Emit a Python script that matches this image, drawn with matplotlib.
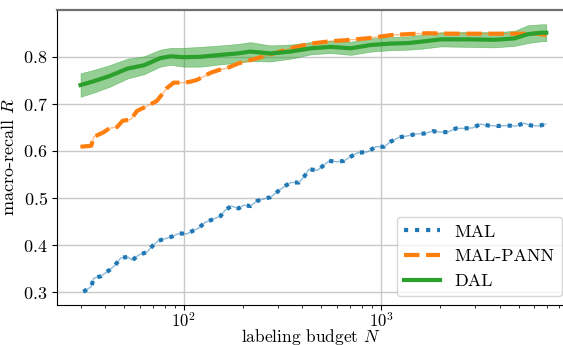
import numpy as np
import matplotlib
matplotlib.use("Agg")
import matplotlib.pyplot as plt

plt.rcParams["font.family"] = "serif"
plt.rcParams["font.serif"] = ["cmr10"]
plt.rcParams["mathtext.fontset"] = "cm"
plt.rcParams["axes.formatter.use_mathtext"] = True

# MAL
mal_n = [31, 34, 35, 38, 42, 45, 48, 52, 55, 59, 65, 69, 74, 81, 87, 95,
         104, 112, 119, 128, 141, 154, 163, 175, 190, 202, 218, 236, 250,
         276, 298, 322, 349, 384, 411, 432, 477, 515, 546, 598, 651, 704,
         761, 856, 943, 1039, 1124, 1239, 1367, 1506, 1660, 1831, 2018,
         2183, 2407, 2652, 2926, 3197, 3512, 3888, 4371, 4858, 5316, 5790,
         6305, 6844]
mal_r = [0.301, 0.312, 0.330, 0.334, 0.347, 0.358, 0.373, 0.375, 0.368,
         0.379, 0.385, 0.397, 0.409, 0.414, 0.418, 0.425, 0.424, 0.431,
         0.436, 0.448, 0.455, 0.462, 0.475, 0.483, 0.478, 0.485, 0.483,
         0.494, 0.497, 0.502, 0.513, 0.524, 0.533, 0.533, 0.547, 0.561,
         0.559, 0.570, 0.579, 0.577, 0.579, 0.588, 0.596, 0.598, 0.609,
         0.609, 0.620, 0.629, 0.632, 0.636, 0.637, 0.642, 0.640, 0.640,
         0.648, 0.648, 0.649, 0.657, 0.654, 0.653, 0.654, 0.653, 0.659,
         0.654, 0.653, 0.657]

# MAL-PANN
pann_n = [30, 34, 35, 39, 42, 46, 49, 54, 58, 65, 73, 79, 82, 89, 100,
          108, 117, 126, 137, 151, 166, 190, 218, 266, 349, 441, 557, 704,
          890, 1124, 1367, 1728, 2270, 2981, 3920, 4955, 6262, 6900]
pann_r = [0.609, 0.611, 0.630, 0.639, 0.648, 0.651, 0.664, 0.667, 0.685,
          0.695, 0.706, 0.724, 0.733, 0.745, 0.745, 0.747, 0.751, 0.758,
          0.766, 0.772, 0.776, 0.786, 0.793, 0.803, 0.818, 0.828, 0.833,
          0.836, 0.840, 0.846, 0.848, 0.850, 0.849, 0.849, 0.849, 0.849,
          0.849, 0.846]

# DAL (mean and spread)
dal_n = [30, 35, 42, 52, 63, 76, 86, 100, 122, 154, 187, 218, 276, 349,
         441, 557, 704, 890, 1124, 1367, 1597, 2018, 2759, 3767, 4761,
         5570, 6509, 6900]
dal_r = [0.740, 0.748, 0.759, 0.775, 0.782, 0.797, 0.801, 0.799, 0.800,
         0.804, 0.807, 0.811, 0.807, 0.811, 0.818, 0.821, 0.818, 0.825,
         0.828, 0.829, 0.832, 0.837, 0.837, 0.836, 0.839, 0.848, 0.851,
         0.851]
dal_sd = [0.025, 0.024, 0.023, 0.021, 0.019, 0.018, 0.018, 0.020, 0.021,
          0.020, 0.020, 0.020, 0.017, 0.015, 0.013, 0.013, 0.014, 0.014,
          0.014, 0.014, 0.015, 0.015, 0.016, 0.016, 0.016, 0.019, 0.018,
          0.018]

blue, orange, green = "#1f77b4", "#ff7f0e", "#2ca02c"

fig = plt.figure(figsize=(5.63, 3.45), dpi=100)
ax = fig.add_axes([0.102, 0.116, 0.9, 0.856])

ax.grid(True, color="#c8c8c8", linewidth=1.0, zorder=0)
ax.set_axisbelow(True)

lo = np.array(dal_r) - np.array(dal_sd)
hi = np.array(dal_r) + np.array(dal_sd)
ax.fill_between(dal_n, lo, hi, color=green, alpha=0.5, linewidth=0.5)

# thin light trace under each styled line
ax.plot(mal_n, mal_r, color=blue, alpha=0.5, linewidth=1)
ax.plot(pann_n, pann_r, color=orange, alpha=0.5, linewidth=1)

ax.plot(mal_n, mal_r, color=blue, linestyle=":", linewidth=3, label="MAL")
ax.plot(pann_n, pann_r, color=orange, linestyle="--", linewidth=3,
        label="MAL-PANN")
ax.plot(dal_n, dal_r, color=green, linestyle="-", linewidth=3, label="DAL")

ax.set_xscale("log")
ax.set_xlim(22.9, 8500)
ax.set_ylim(0.273, 0.9)
ax.set_yticks([0.3, 0.4, 0.5, 0.6, 0.7, 0.8])

ax.set_xlabel("labeling budget $N$", fontsize=12.5)
ax.xaxis.set_label_coords(0.5, -0.074)
ax.set_ylabel("macro-recall $R$", fontsize=13, labelpad=4)
ax.tick_params(axis="both", which="major", labelsize=13)
ax.tick_params(axis="x", which="major", labelsize=12, pad=1)

ax.spines["right"].set_visible(False)
ax.spines["top"].set_color("#707070")
ax.spines["top"].set_linewidth(1.6)
ax.spines["left"].set_color("black")
ax.spines["bottom"].set_color("black")

ax.legend(loc="lower right", fontsize=13, framealpha=0.8,
          bbox_to_anchor=(0.995, 0.03), borderaxespad=0.0,
          handlelength=2.0)

fig.savefig("out.png", dpi=100)
